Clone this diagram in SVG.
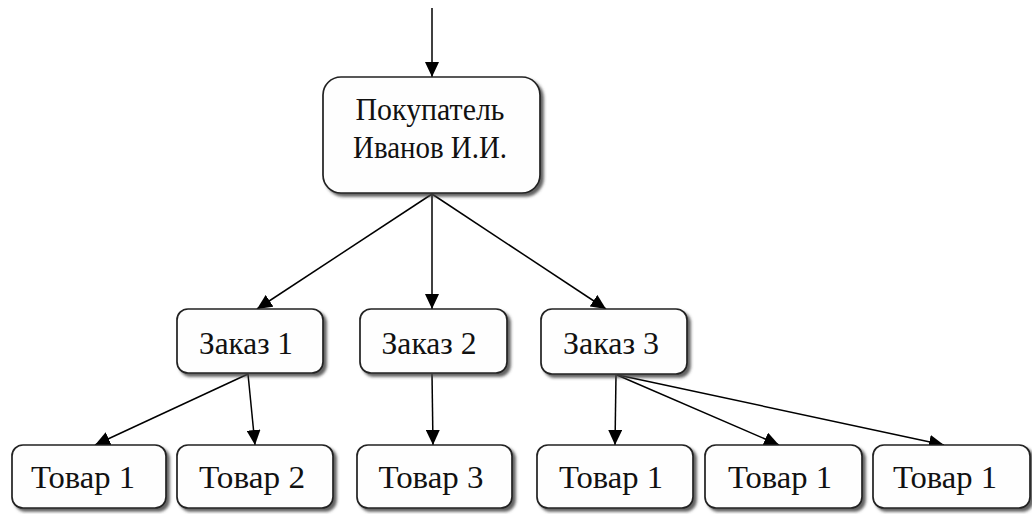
<svg xmlns="http://www.w3.org/2000/svg" width="1032" height="514" viewBox="0 0 1032 514">
<style>
.box{fill:#fefefe;stroke:#222;stroke-width:1.7;filter:url(#sh)}
.t{font-family:"Liberation Serif","Times New Roman",serif;font-size:32px;fill:#111;text-anchor:middle}
.c{stroke:#000;stroke-width:1.5;fill:none;marker-end:url(#ah)}
</style>
<defs>
<filter id="sh" x="-10%" y="-10%" width="130%" height="140%">
<feDropShadow dx="3" dy="3" stdDeviation="1.5" flood-color="#444" flood-opacity="0.85"/>
</filter>
<marker id="ah" markerUnits="userSpaceOnUse" markerWidth="16" markerHeight="14" refX="15" refY="7" orient="auto">
<path d="M0,0 L15,7 L0,14 z" fill="#000"/>
</marker>
</defs>
<rect width="1032" height="514" fill="#fff"/>
<g id="connectors">
<line class="c" x1="432" y1="8" x2="432" y2="77"/>
<line class="c" x1="432" y1="194" x2="257" y2="309"/>
<line class="c" x1="432" y1="194" x2="432" y2="309"/>
<line class="c" x1="432" y1="194" x2="606" y2="309"/>
<line class="c" x1="248" y1="374" x2="95" y2="445"/>
<line class="c" x1="248" y1="374" x2="255" y2="445"/>
<line class="c" x1="432" y1="374" x2="433" y2="445"/>
<line class="c" x1="616" y1="375" x2="615" y2="445"/>
<line class="c" x1="617" y1="375" x2="779" y2="445"/>
<line class="c" x1="618" y1="375" x2="944" y2="445"/>
</g>
<g id="buyer">
<rect class="box" x="323" y="77" width="217" height="116" rx="18"/>
<text class="t" x="430" y="120" textLength="149" lengthAdjust="spacingAndGlyphs">Покупатель</text>
<text class="t" x="430" y="158" textLength="154" lengthAdjust="spacingAndGlyphs">Иванов И.И.</text>
</g>
<g id="order1">
<rect class="box" x="177" y="309" width="146" height="64" rx="11"/>
<text class="t" x="246" y="354" textLength="94" lengthAdjust="spacingAndGlyphs">Заказ 1</text>
</g>
<g id="order2">
<rect class="box" x="360" y="309" width="147" height="64" rx="11"/>
<text class="t" x="429" y="354" textLength="95" lengthAdjust="spacingAndGlyphs">Заказ 2</text>
</g>
<g id="order3">
<rect class="box" x="541" y="309" width="146" height="65" rx="11"/>
<text class="t" x="611" y="354" textLength="96" lengthAdjust="spacingAndGlyphs">Заказ 3</text>
</g>
<g id="item1">
<rect class="box" x="12" y="445" width="154" height="63" rx="11"/>
<text class="t" x="83" y="488" textLength="104" lengthAdjust="spacingAndGlyphs">Товар 1</text>
</g>
<g id="item2">
<rect class="box" x="177" y="445" width="156" height="63" rx="11"/>
<text class="t" x="252" y="488" textLength="106" lengthAdjust="spacingAndGlyphs">Товар 2</text>
</g>
<g id="item3">
<rect class="box" x="357" y="445" width="155" height="63" rx="11"/>
<text class="t" x="431" y="488" textLength="105" lengthAdjust="spacingAndGlyphs">Товар 3</text>
</g>
<g id="item4">
<rect class="box" x="537" y="445" width="156" height="63" rx="11"/>
<text class="t" x="611" y="488" textLength="104" lengthAdjust="spacingAndGlyphs">Товар 1</text>
</g>
<g id="item5">
<rect class="box" x="705" y="445" width="157" height="63" rx="11"/>
<text class="t" x="780" y="488" textLength="104" lengthAdjust="spacingAndGlyphs">Товар 1</text>
</g>
<g id="item6">
<rect class="box" x="873" y="445" width="157" height="63" rx="11"/>
<text class="t" x="945" y="488" textLength="104" lengthAdjust="spacingAndGlyphs">Товар 1</text>
</g>
</svg>
